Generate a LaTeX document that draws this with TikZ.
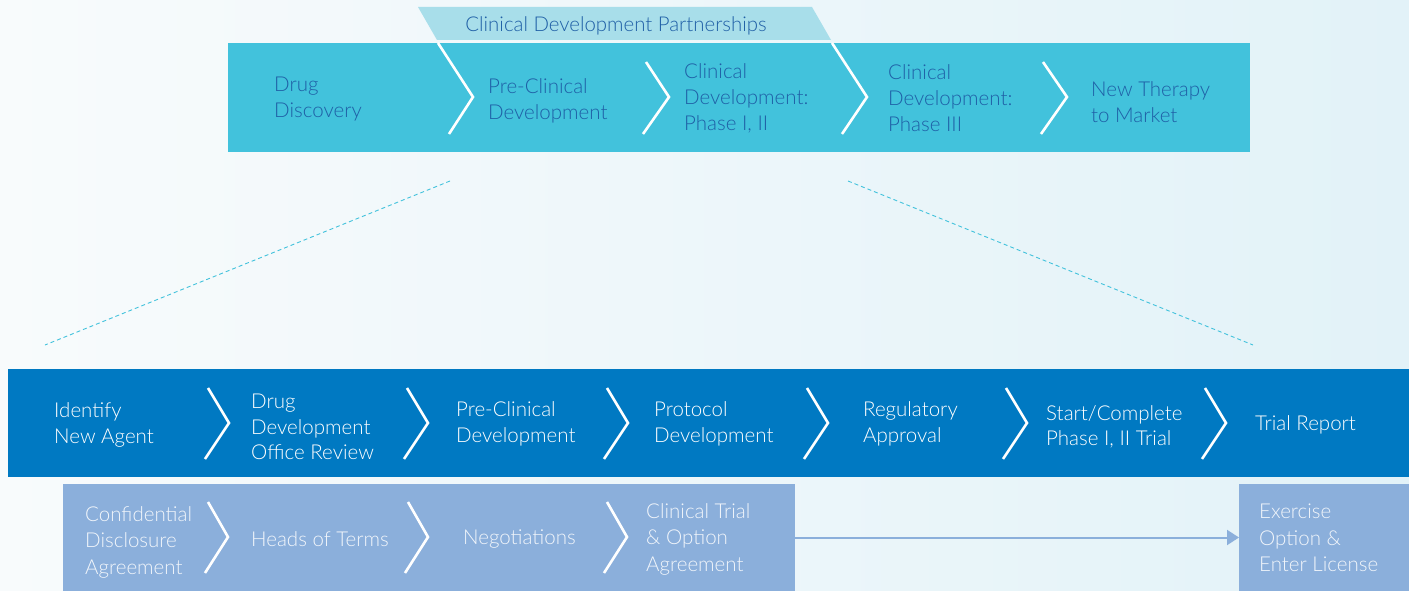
\documentclass[tikz,border=0pt]{standalone}
\usepackage{fontspec}
\IfFontExistsTF{Lato Light}{\setmainfont{Lato Light}}{\setmainfont{Lato}}
\usetikzlibrary{arrows.meta}
\definecolor{bgL}{HTML}{F8FBFC}
\definecolor{bgR}{HTML}{E2F2F8}
\definecolor{topc}{HTML}{42C2DC}
\definecolor{bannerc}{HTML}{A8DEEA}
\definecolor{toptext}{HTML}{1F5FA6}
\definecolor{darkc}{HTML}{0079C2}
\definecolor{lightc}{HTML}{8BAFDB}
\definecolor{lighttext}{HTML}{F2F6FB}
\tikzset{
  bar/.style={inner sep=0pt, outer sep=0pt, anchor=north west},
  chev/.style={white, line width=2.6pt, line join=miter},
  toplbl/.style={anchor=west, inner sep=0pt, align=left, text=toptext, font=\fontsize{20.5}{26}\selectfont},
  darklbl/.style={anchor=west, inner sep=0pt, align=left, text=white, font=\fontsize{20.5}{25.5}\selectfont},
  lightlbl/.style={anchor=west, inner sep=0pt, align=left, text=lighttext, font=\fontsize{20.5}{26.5}\selectfont},
  dashlink/.style={topc, line width=0.9pt, dash pattern=on 4pt off 3pt},
}
\begin{document}
\begin{tikzpicture}[x=1pt, y=-1pt]
\useasboundingbox (0,0) rectangle (1409,591);
\shade[left color=bgL, right color=bgR] (0,0) rectangle (1409,591);

% top bar
\node[bar, fill=topc, minimum width=1022pt, minimum height=109pt] (topbar) at (228,43) {};
\fill[bannerc] (418,7) -- (812,7) -- (831,40) -- (437,40) -- cycle;
\node[inner sep=0pt, text=toptext, font=\fontsize{20.4}{24}\selectfont] (cdp) at (616,26) {Clinical Development Partnerships};

\draw[chev] (438,43) -- (473,97) -- (449,134);
\draw[chev] (646,62) -- (669,97) -- (643,134);
\draw[chev] (832,43) -- (867,97) -- (842,134);
\draw[chev] (1043,62) -- (1067,97) -- (1041,134);

\node[toplbl] (t1) at (274,99) {Drug\\Discovery};
\node[toplbl] (t2) at (488,101) {Pre-Clinical\\Development};
\node[toplbl] (t3) at (684,98) {Clinical\\Development:\\Phase I, II};
\node[toplbl] (t4) at (888,98) {Clinical\\Development:\\Phase III};
\node[toplbl] (t5) at (1091,102) {New Therapy\\to Market};

% dashed zoom lines
\coordinate (dl1) at (450,181);
\coordinate (dl2) at (45,345);
\coordinate (dr1) at (848,181);
\coordinate (dr2) at (1253,345);
\draw[dashlink] (dl1) -- (dl2);
\draw[dashlink] (dr1) -- (dr2);

% dark bar
\node[bar, fill=darkc, minimum width=1401pt, minimum height=108pt] (darkbar) at (8,369) {};
\foreach \x in {229,428,628,828,1027,1226}{
  \draw[chev] (\x-21,388) -- (\x,423) -- (\x-24,459);
}
\node[darklbl] (d1) at (54,425) {Identify\\New Agent};
\node[darklbl] (d2) at (251,427) {Drug\\Development\\Office Review};
\node[darklbl] (d3) at (456,424) {Pre-Clinical\\Development};
\node[darklbl] (d4) at (654,424) {Protocol\\Development};
\node[darklbl] (d5) at (863,424) {Regulatory\\Approval};
\node[darklbl] (d6) at (1046,427) {Start/Complete\\Phase I, II Trial};
\node[darklbl] (d7) at (1255,425) {Trial Report};

% light bar
\node[bar, fill=lightc, minimum width=732pt, minimum height=107pt] (lightbar) at (63,484) {};
\node[bar, fill=lightc, minimum width=170pt, minimum height=107pt] (exbox) at (1239,484) {};
\foreach \x in {228,428,627}{
  \draw[chev] (\x-20,502) -- (\x,537) -- (\x-23,573);
}
\node[lightlbl] (l1) at (85,542) {Confidential\\Disclosure\\Agreement};
\node[lightlbl] (l2) at (251,539) {Heads of Terms};
\node[lightlbl] (l3) at (463,539) {Negotiations};
\node[lightlbl] (l4) at (646,539) {Clinical Trial\\\& Option\\Agreement};
\node[lightlbl] (l5) at (1259,538) {Exercise\\Option \&\\Enter License};

\draw[lightc, line width=2pt, -{Triangle[length=12pt,width=15pt]}] (lightbar.east) -- (exbox.west);
\end{tikzpicture}
\end{document}
